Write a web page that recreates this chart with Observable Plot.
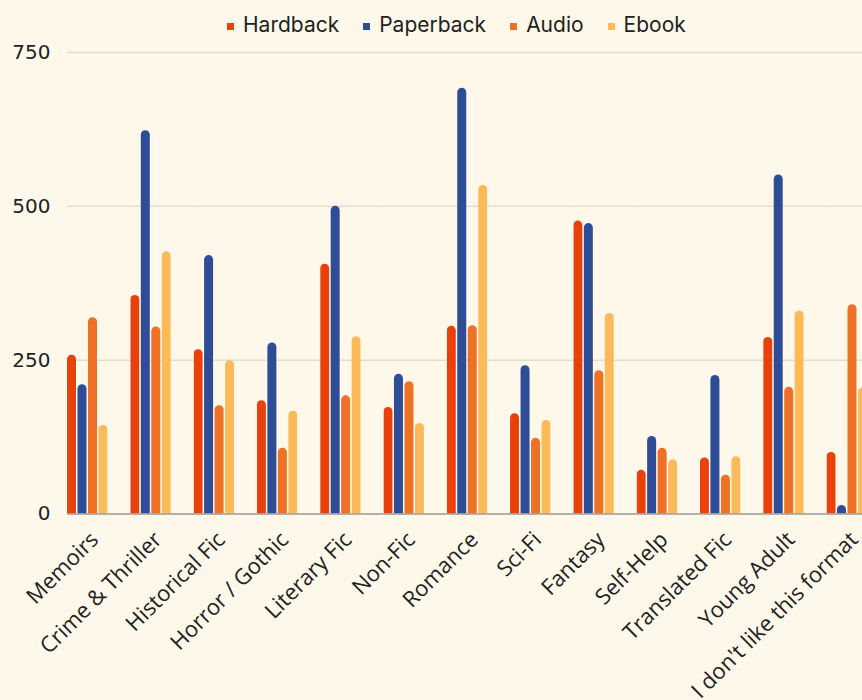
<!DOCTYPE html>
<html>
<head>
<meta charset="utf-8">
<script src="https://cdn.jsdelivr.net/npm/d3@7"></script>
<script src="https://cdn.jsdelivr.net/npm/@observablehq/plot@0.6"></script>
<style>
  html, body { margin: 0; padding: 0; background: #fef8ea; overflow: hidden; }
  #wrap { position: relative; width: 862px; height: 700px; overflow: hidden; background: #fef8ea; }
  #legend { position: absolute; top: 14px; left: 227px; display: flex; align-items: center;
            font-family: Inter, "Noto Sans", sans-serif; font-size: 21px; color: #222; line-height: 22px; }
  .item { display: flex; align-items: center; margin-right: 24px; }
  .sw { width: 7px; height: 7px; margin-right: 9px; margin-top: 2px; }
  #chart { position: absolute; top: 0; left: 0; width: 880px; }
  #chart svg { max-width: none !important; }
</style>
</head>
<body>
<div id="wrap">
  <div id="chart"></div>
  <div id="legend"></div>
</div>
<script>
const genres = ["Memoirs","Crime & Thriller","Historical Fic","Horror / Gothic","Literary Fic","Non-Fic","Romance","Sci-Fi","Fantasy","Self-Help","Translated Fic","Young Adult","I don't like this format"];
const formats = ["Hardback","Paperback","Audio","Ebook"];
const hardback  = [258,355,267,184,406,173,305,163,476,71,91,287,100];
const paperback = [210,623,420,278,500,227,692,241,472,126,225,551,14];
const audio     = [319,304,176,107,192,215,306,123,233,107,63,206,340];
const ebook     = [144,426,249,167,288,147,534,152,326,88,93,330,205];
const yTicks = [0,250,500,750];
const colors = ["#e8410c","#2f4c97","#ee7128","#fdba59"];

const series = [hardback, paperback, audio, ebook];
const rows = [];
genres.forEach((g, i) => formats.forEach((f, j) => rows.push({genre: g, format: f, value: series[j][i]})));

// legend
const legend = document.getElementById("legend");
formats.forEach((f, j) => {
  const it = document.createElement("div"); it.className = "item";
  const sw = document.createElement("div"); sw.className = "sw"; sw.style.background = colors[j];
  const tx = document.createElement("span"); tx.textContent = f;
  it.appendChild(sw); it.appendChild(tx); legend.appendChild(it);
});

const width = 880, marginLeft = 67, marginRight = 13, pIn = 0.36;
const step = (width - marginLeft - marginRight) / (genres.length - pIn);
const gap = step * pIn;

const chart = Plot.plot({
  width, height: 700,
  marginLeft, marginRight, marginTop: 52, marginBottom: 186.5,
  style: {background: "transparent", fontFamily: "'Open Sans', sans-serif", color: "#222", overflow: "visible", maxWidth: "none"},
  fx: {domain: genres, paddingInner: pIn, paddingOuter: 0, align: 0, round: false, label: null, axis: null},
  x: {domain: formats, paddingInner: 0.143, paddingOuter: 0, round: false, axis: null},
  y: {domain: [0, 750], axis: null},
  color: {domain: formats, range: colors},
  marks: [
    Plot.ruleY(yTicks.slice(1), {stroke: "#e2ddd0", strokeWidth: 1.5, insetRight: -gap}),
    Plot.axisY({ticks: yTicks, tickSize: 0, tickPadding: 17, fontSize: 20, fontFamily: "DejaVu Sans", fill: "#222", label: null}),
    Plot.barY(rows, {fx: "genre", x: "format", y: "value", fill: "format", rx: 4.5, insetBottom: -12, clip: true}),
    Plot.ruleY([0], {stroke: "#9d9a92", strokeWidth: 1.5, insetRight: -gap}),
    Plot.axisFx({anchor: "bottom", tickRotate: -45, tickSize: 0, tickPadding: 22, fontSize: 22, fill: "#222", label: null, dx: 7})
  ]
});
document.getElementById("chart").appendChild(chart);
</script>
</body>
</html>
